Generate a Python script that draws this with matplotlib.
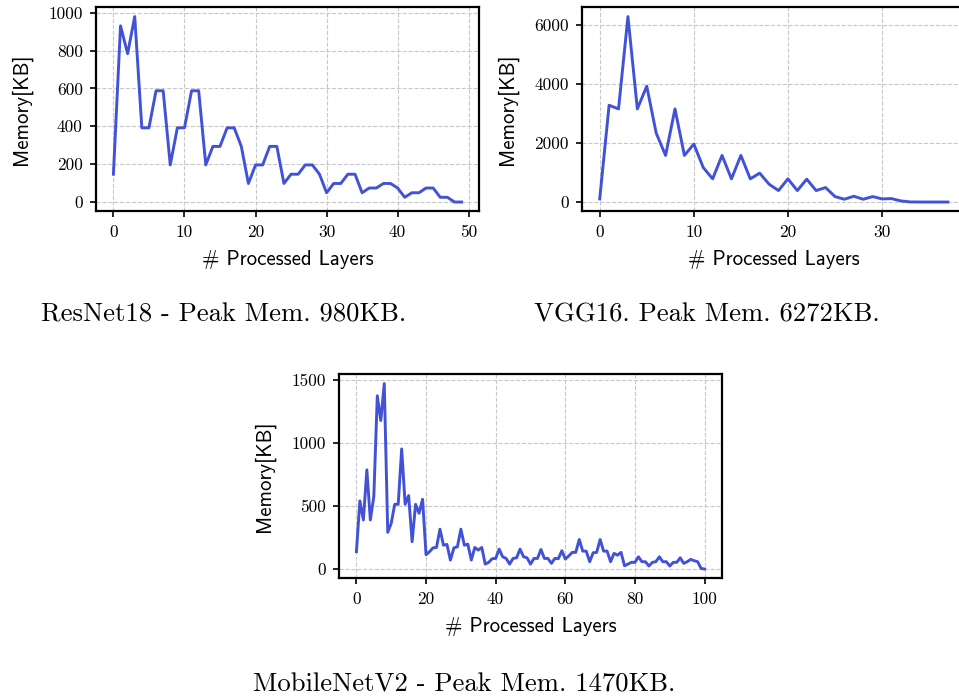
#!/usr/bin/env python3
# -*- coding: utf-8 -*-

"""
Peak memory per processed layer for three networks (ResNet18, VGG16, MobileNetV2).
"""

import matplotlib
matplotlib.use("Agg")
import matplotlib.pyplot as plt
from matplotlib.ticker import MultipleLocator

# --- Data ---
resnet18_mem = [147, 931, 784, 980, 392, 392, 588, 588, 196, 392,
                392, 588, 588, 196, 294, 294, 392, 392, 294, 98,
                196, 196, 294, 294, 98, 147, 147, 196, 196, 147,
                49, 98, 98, 147, 147, 49, 74, 74, 98, 98,
                74, 25, 49, 49, 74, 74, 25, 25, 0, 0]

vgg16_mem = [113, 3277, 3153, 6272, 3153, 3921, 2339, 1582, 3153, 1582,
             1966, 1175, 791, 1582, 791, 1582, 791, 983, 610, 395,
             791, 395, 780, 395, 497, 192, 102, 203, 102, 192,
             113, 124, 45, 11, 8, 8, 8, 8]

mobilenetv2_mem = [138, 540, 389, 786, 389, 574, 1373, 1177, 1470, 291,
                   362, 513, 513, 952, 513, 582, 217, 513, 442, 553,
                   113, 137, 168, 171, 316, 189, 195, 71, 168, 176,
                   316, 189, 197, 71, 171, 150, 171, 39, 53, 82,
                   84, 158, 97, 84, 39, 84, 89, 158, 97, 89,
                   39, 84, 84, 155, 84, 84, 45, 84, 82, 145,
                   79, 104, 132, 132, 234, 142, 142, 58, 129, 132,
                   234, 142, 142, 58, 124, 110, 132, 26, 39, 53,
                   53, 97, 58, 58, 24, 53, 58, 97, 58, 58,
                   24, 53, 53, 89, 45, 58, 76, 66, 58, 5, 0]

captions = ["ResNet18 - Peak Mem. 980KB.",
            "VGG16. Peak Mem. 6272KB.",
            "MobileNetV2 - Peak Mem. 1470KB."]

y_steps = [200, 2000, 500]

LINE_COLOR = "#4152d6"
W, H = 959, 696


def style_axes(ax, ystep):
    ax.yaxis.set_major_locator(MultipleLocator(ystep))
    ax.grid(True, linestyle="--", color="#c8c8c8", linewidth=0.8)
    ax.set_axisbelow(True)
    for sp in ax.spines.values():
        sp.set_linewidth(1.6)
        sp.set_color("black")
    ax.tick_params(direction="out", length=4.5, width=1.2, labelsize=12.5, pad=5)
    ax.set_xlabel("# Processed Layers", family="cmss10", fontsize=15, labelpad=7)
    ax.set_ylabel("Memory[KB]", family="cmss10", fontsize=15, labelpad=12)


def main():
    fig = plt.figure(figsize=(W / 100, H / 100), dpi=100)

    # axes boxes in pixels: left, top, right, bottom
    boxes = [(96, 7.3, 479, 211.3),
             (582.3, 7.3, 965.3, 211.3),
             (339, 374.3, 722, 578.3)]
    series = [resnet18_mem, vgg16_mem, mobilenetv2_mem]

    for (l, t, r, b), mem, ystep in zip(boxes, series, y_steps):
        ax = fig.add_axes([l / W, 1 - b / H, (r - l) / W, (b - t) / H])
        ax.plot(range(len(mem)), mem, color=LINE_COLOR, linewidth=2.1)
        style_axes(ax, ystep)
        fig.canvas.draw()
        for lbl in ax.get_xticklabels() + ax.get_yticklabels():
            lbl.set_family("cmr10")

    # subfigure captions (serif, LaTeX-like)
    cap_pos = [(224, 322), (706.5, 322), (464, 692)]
    for (cx, cy), txt in zip(cap_pos, captions):
        fig.text(cx / W, 1 - cy / H, txt, ha="center", va="baseline",
                 family="cmr10", fontsize=19.2)

    fig.savefig("out.png", dpi=100)


if __name__ == "__main__":
    main()
